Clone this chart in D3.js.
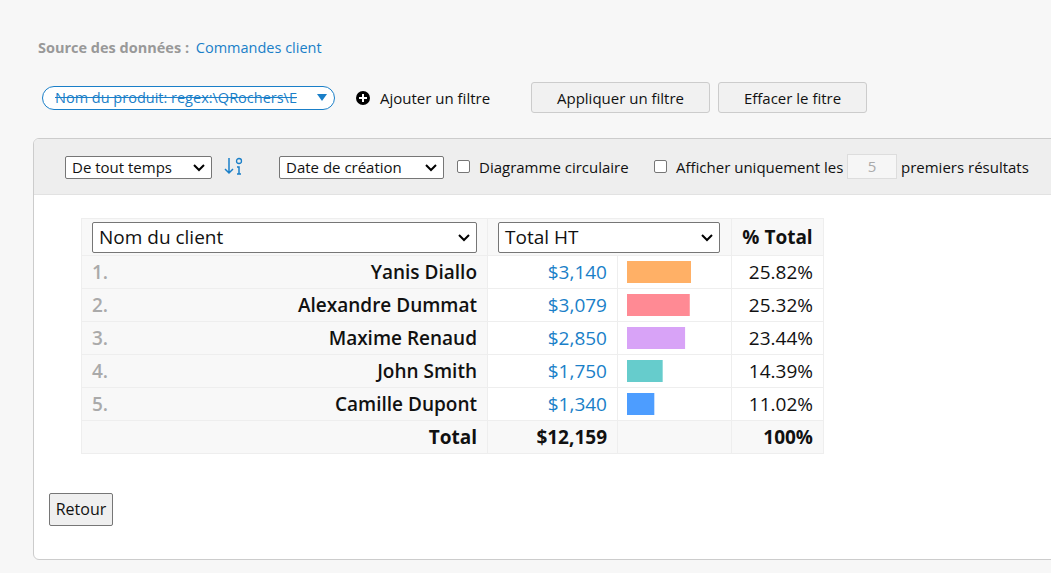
<!DOCTYPE html>
<html><head><meta charset="utf-8">
<script src="https://cdn.jsdelivr.net/npm/d3@7"></script>
<style>
body{margin:0;background:#f7f7f7;font-family:"Open Sans",sans-serif;width:1051px;height:573px;overflow:hidden;position:relative;color:#111}
.abs{position:absolute}
.btn{position:absolute;top:82px;height:31px;border:1px solid #ccc;border-radius:3px;background:#f1f1f1;font-size:15px;line-height:31px;text-align:center;box-sizing:border-box}
.sel{position:absolute;border:1px solid #767676;border-radius:2px;background:#fff;box-sizing:border-box;padding-left:6px;font-size:15px}
.sel svg{position:absolute;right:6px}
.cb{position:absolute;width:13px;height:13px;border:1px solid #767676;border-radius:2px;background:#fff;box-sizing:border-box}
#panel{position:absolute;left:33px;top:138px;width:1040px;height:420px;border:1px solid #ccc;border-radius:6px;background:#fff;overflow:hidden}
#band{position:absolute;left:0;top:0;right:0;height:55px;background:#eee;border-bottom:1px solid #e2e2e2}
table{position:absolute;left:47px;top:79px;border-collapse:collapse;font-size:19px;table-layout:fixed;width:742px}
td{border:1px solid #eee;height:33px;padding:0;box-sizing:border-box;white-space:nowrap}
</style></head><body>
<div class="abs" style="left:38px;top:38px;font-size:14.5px;"><b style="color:#999">Source des données :</b> <span style="color:#1a7fc8;margin-left:3px">Commandes client</span></div>
<div class="abs" style="left:42px;top:86px;width:293px;height:24px;border:1px solid #1a7fc8;border-radius:12px;background:#fff;box-sizing:border-box;font-size:14.5px;line-height:22px;padding-left:12px;color:#1a7fc8"><span style="text-decoration:line-through">Nom du produit: regex:\QRochers\E</span>
<svg class="abs" style="left:274px;top:7px" width="10" height="8"><path d="M0,0H10L5,7Z" fill="#1a7fc8"/></svg></div>
<svg class="abs" style="left:355px;top:90px" width="16" height="16"><circle cx="8" cy="8" r="7" fill="#000"/><path d="M8,4V12M4,8H12" stroke="#fff" stroke-width="2"/></svg>
<div class="abs" style="left:380px;top:88px;font-size:15px">Ajouter un filtre</div>
<div class="btn" style="left:531px;width:179px">Appliquer un filtre</div>
<div class="btn" style="left:718px;width:149px">Effacer le fitre</div>
<div id="panel"><div id="band"></div></div>
<script>
var ranks = ["1.", "2.", "3.", "4.", "5."];
var clients = ["Yanis Diallo", "Alexandre Dummat", "Maxime Renaud", "John Smith", "Camille Dupont"];
var totals = [3140, 3079, 2850, 1750, 1340];
var percents = ["25.82%", "25.32%", "23.44%", "14.39%", "11.02%"];
var colors = ["#ffb066", "#ff8a94", "#d8a3f7", "#66cccc", "#4d9dff"];
var totalLabel = "Total", grandTotal = "$12,159", grandPercent = "100%";

var panel = d3.select("#panel");
var chev = '<svg width="12" height="8"><path d="M1,1L6,6L11,1" fill="none" stroke="#000" stroke-width="2"/></svg>';
function sel(parent, x, y, w, h, text, fs){
  parent.append("div").attr("class","sel")
    .style("left",x+"px").style("top",y+"px").style("width",w+"px").style("height",h+"px")
    .style("line-height",(h-2)+"px").style("font-size",fs+"px")
    .html(text + chev).select("svg").style("top",((h-10)/2)+"px");
}
sel(panel, 31, 17, 147, 23, "De tout temps", 15);
// sort icon
var si = panel.append("svg").attr("class","abs").style("left","190px").style("top","18px").attr("width",22).attr("height",20);
si.append("path").attr("d","M5,1V16M1,12L5,16L9,12").attr("fill","none").attr("stroke","#1a7fc8").attr("stroke-width",1.5);
si.append("circle").attr("cx",15).attr("cy",4).attr("r",2.5).attr("fill","none").attr("stroke","#1a7fc8").attr("stroke-width",1.3);
si.append("path").attr("d","M13,10H15V17M13,17H17").attr("fill","none").attr("stroke","#1a7fc8").attr("stroke-width",1.5);
sel(panel, 245, 17, 165, 23, "Date de création", 15);
panel.append("div").attr("class","cb").style("left","423px").style("top","21px");
panel.append("div").attr("class","abs").style("left","445px").style("top","18px").style("font-size","15px").text("Diagramme circulaire");
panel.append("div").attr("class","cb").style("left","620px").style("top","21px");
panel.append("div").attr("class","abs").style("left","642px").style("top","18px").style("font-size","15px").text("Afficher uniquement les");
panel.append("div").attr("class","abs").style("left","813px").style("top","15px").style("width","50px").style("height","25px")
  .style("border","1px solid #ddd").style("background","#f6f6f6").style("box-sizing","border-box").style("text-align","center")
  .style("color","#aaa").style("font-size","15px").style("line-height","23px").text("5");
panel.append("div").attr("class","abs").style("left","867px").style("top","18px").style("font-size","15px").text("premiers résultats");

var x = d3.scaleLinear().domain([0, d3.max(totals)]).range([0, 64]);
var table = panel.append("table");
var cols = [406, 130, 114, 92];
var cg = table.append("colgroup");
cols.forEach(function(w){ cg.append("col").style("width", w+"px"); });
var head = table.append("tr");
var h1 = head.append("td").style("position","relative").style("height","37px").style("background","#f8f8f8");
var h2 = head.append("td").attr("colspan",2).style("position","relative").style("background","#f8f8f8");
sel(h1, 10, 3, 385, 31, "Nom du client", 19);
sel(h2, 10, 3, 222, 31, "Total HT", 19);
head.append("td").style("text-align","center").style("font-weight","bold").style("background","#f8f8f8").text("% Total");

clients.forEach(function(c, i){
  var tr = table.append("tr");
  tr.append("td").style("background","#f8f8f8").style("font-weight","600").style("padding","0 10px")
    .html('<span style="color:#aaa;float:left">'+ranks[i]+'</span><span style="float:right">'+c+'</span>');
  tr.append("td").style("text-align","right").style("padding-right","10px").style("color","#1a7fc8").text(d3.format("$,")(totals[i]));
  var bc = tr.append("td").style("padding-left","9px").append("svg").attr("width",100).attr("height",22).style("display","block");
  bc.append("rect").attr("x",0).attr("y",0).attr("height",22).attr("width",x(totals[i])).attr("fill",colors[i]);
  tr.append("td").style("text-align","right").style("padding-right","10px").text(percents[i]);
});
var tt = table.append("tr").style("font-weight","bold").style("background","#f8f8f8");
tt.append("td").style("text-align","right").style("padding-right","10px").text(totalLabel);
tt.append("td").style("text-align","right").style("padding-right","10px").text(grandTotal);
tt.append("td");
tt.append("td").style("text-align","right").style("padding-right","10px").text(grandPercent);

panel.append("div").attr("class","abs").style("left","15px").style("top","354px").style("width","64px").style("height","33px")
  .style("border","1px solid #767676").style("border-radius","2px").style("background","#efefef").style("box-sizing","border-box")
  .style("text-align","center").style("line-height","31px").style("font-size","16px").text("Retour");
</script>
</body></html>
